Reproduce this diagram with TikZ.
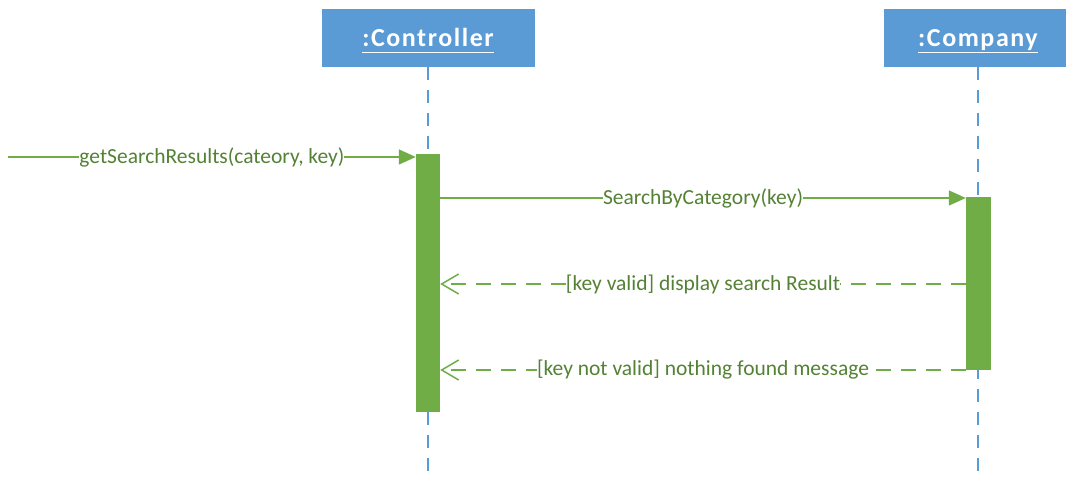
\documentclass[tikz,border=0pt]{standalone}
\usepackage{fontspec}
\setmainfont{Carlito}
\newfontfamily\headfont[LetterSpace=6]{Carlito}
\usepackage{tikz}
\usetikzlibrary{arrows.meta}
\definecolor{boxblue}{HTML}{5B9BD5}
\definecolor{bargreen}{HTML}{70AD47}
\definecolor{textgreen}{HTML}{548235}
\newcommand{\objname}[1]{\raisebox{-9pt}[0pt][0pt]{\headfont\bfseries\fontsize{26}{30}\selectfont\underline{#1\vphantom{p}}}}
\newcommand{\msgfont}{\fontsize{21.5}{25}\selectfont}
\tikzstyle{object} = [fill=boxblue, text=white, inner sep=0pt, minimum height=58pt]
\tikzstyle{activation} = [fill=bargreen, inner sep=0pt, minimum width=24pt]
\tikzstyle{lifeline} = [draw=boxblue, line width=1.5pt, dash pattern=on 13pt off 10pt]
\tikzstyle{call} = [draw=bargreen, line width=1.5pt, -{Triangle[length=17pt,width=15pt]}]
\tikzstyle{reply} = [draw=bargreen, line width=1.5pt, dash pattern=on 15pt off 10pt, -{Straight Barb[length=17pt,width=20pt]}]
\tikzstyle{msg} = [fill=white, text=textgreen, inner sep=0pt, font=\msgfont]

\begin{document}
\begin{tikzpicture}[x=1pt,y=1pt]
			\useasboundingbox (0,0) rectangle (1066,-478);
			\node[object, minimum width=213pt] (ctrl) at (428,-38) {\objname{:Controller}};
			\node[object, minimum width=188pt] (comp) at (978,-38) {\objname{:Company}};
			\coordinate (ctrlend) at (428,-478);
			\coordinate (compend) at (978,-478);
			\draw[lifeline] (ctrl) -- (ctrlend);
			\draw[lifeline] (comp) -- (compend);
			\node[activation, minimum height=258pt] (ctrlact) at (428,-283) {};
			\node[activation, minimum width=25pt, minimum height=173pt] (compact) at (978.5,-283.5) {};
			\coordinate (caller) at (8,-157);
			\coordinate (m2) at (0,-198);
			\coordinate (m3) at (0,-284);
			\coordinate (m4) at (0,-370);
			\draw[call] (caller) -- node[msg] {getSearchResults(cateory, key)} (caller -| ctrlact.west);
			\draw[call] (ctrlact.east |- m2) -- node[msg] {SearchByCategory(key)} (compact.west |- m2);
			\draw[reply] (compact.west |- m3) -- node[msg] {[key valid] display search Result} (ctrlact.east |- m3);
			\draw[reply] (compact.west |- m4) -- node[msg] {[key not valid] nothing found message} (ctrlact.east |- m4);
		\end{tikzpicture}
\end{document}
